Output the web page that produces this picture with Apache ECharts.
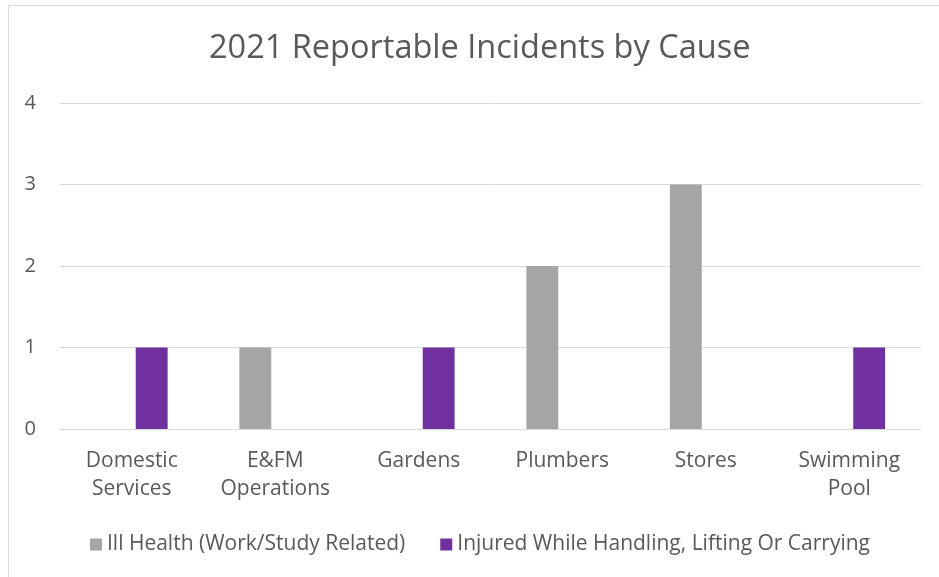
<!DOCTYPE html>
<html><head><meta charset="utf-8">
<script src="https://cdn.jsdelivr.net/npm/echarts@6/dist/echarts.min.js"></script>
<style>html,body{margin:0;padding:0;background:#fff}#c{width:939px;height:577px}</style>
</head><body><div id="c"></div>
<script>
const categories = ['Domestic Services', 'E&FM Operations', 'Gardens', 'Plumbers', 'Stores', 'Swimming Pool'];
const illHealth = [0, 1, 0, 2, 3, 0];
const injuredHandling = [1, 0, 1, 0, 0, 1];
const seriesNames = ['Ill Health (Work/Study Related)', 'Injured While Handling, Lifting Or Carrying'];
const titleText = '2021 Reportable Incidents by Cause';
const FONT = 'Open Sans';
const chart = echarts.init(document.getElementById('c'));
chart.setOption({
  animation: false,
  backgroundColor: '#fff',
  graphic: [{type: 'rect', shape: {x: 8.5, y: 5.5, width: 1000, height: 1000}, style: {fill: 'none', stroke: '#D9D9D9', lineWidth: 1}, silent: true}],
  title: {text: titleText, left: 204, top: 27, textStyle: {fontFamily: FONT, fontSize: 32.5, fontWeight: 'normal', color: '#595959'}},
  legend: {bottom: 17, left: 85, itemWidth: 12, itemHeight: 12, itemGap: 35, icon: 'rect',
    textStyle: {fontFamily: FONT, fontSize: 21, color: '#595959'}},
  grid: {left: 60, right: 18, top: 103, bottom: 148},
  xAxis: {type: 'category', data: categories,
    axisLine: {lineStyle: {color: '#D9D9D9', width: 1}}, axisTick: {show: false},
    axisLabel: {fontFamily: FONT, fontSize: 21, color: '#595959', lineHeight: 28, margin: 18, interval: 0,
      formatter: v => v.replace(' ', '\n')}},
  yAxis: {type: 'value', min: 0, max: 4, interval: 1,
    axisLine: {show: false}, axisTick: {show: false},
    splitLine: {lineStyle: {color: '#D9D9D9', width: 1}},
    axisLabel: {fontFamily: FONT, fontSize: 20, color: '#595959', margin: 24}},
  series: [
    {name: seriesNames[0], type: 'bar', data: illHealth, itemStyle: {color: '#A5A5A5'}, barGap: '25%', barCategoryGap: '50%'},
    {name: seriesNames[1], type: 'bar', data: injuredHandling, itemStyle: {color: '#7030A0'}, barGap: '25%', barCategoryGap: '50%'}
  ]
});
</script></body></html>
